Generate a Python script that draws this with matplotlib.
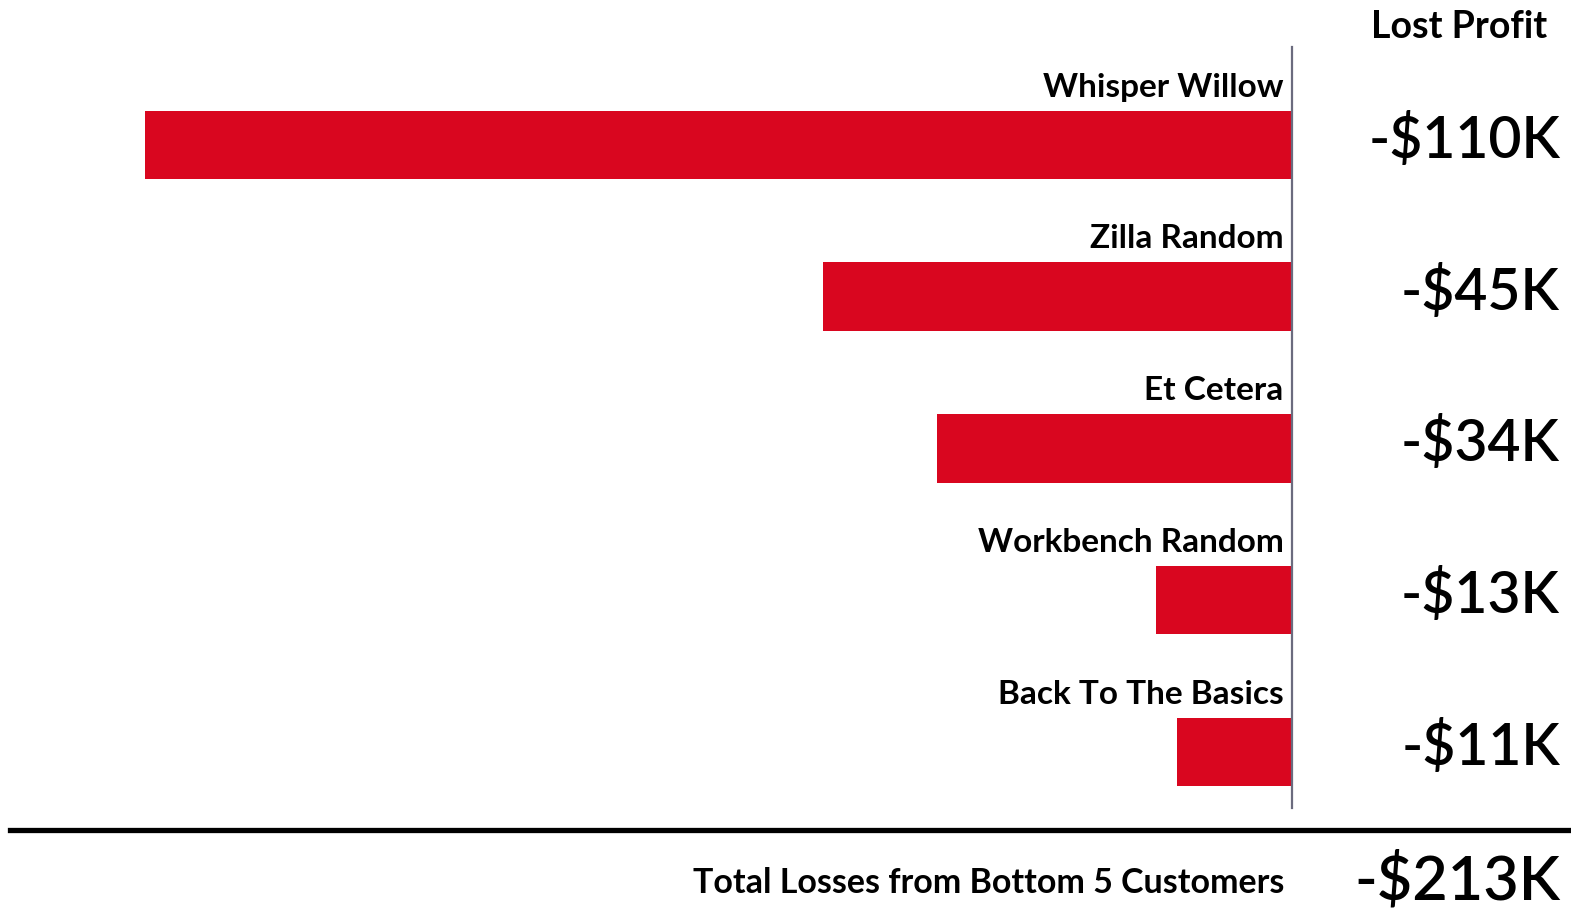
import matplotlib
matplotlib.use("Agg")
import matplotlib.pyplot as plt
import matplotlib.transforms as mtransforms
from matplotlib.lines import Line2D

plt.rcParams['font.family'] = ['Lato', 'DejaVu Sans']

# bottom five customers by profit, in $K
customers = ["Whisper Willow", "Zilla Random", "Et Cetera",
             "Workbench Random", "Back To The Basics"]
lost_profit = [-110, -45, -34, -13, -11]
total_label = "Total Losses from Bottom 5 Customers"

bar_red = "#D9061F"
axis_grey = "#6B6B7E"


def fmt_k(v):
    return "-${:d}K".format(abs(int(round(v))))


W, H = 1571, 908
fig = plt.figure(figsize=(W / 100, H / 100), dpi=100)
ax = fig.add_axes([0, 1 - 808 / H, 1292 / W, (808 - 47) / H])

ypos = list(range(len(customers)))
ax.barh(ypos, lost_profit, height=0.45, color=bar_red)

ax.set_xlim(min(lost_profit) * 1292 / 1147, 0)
ax.set_ylim(4.37, -0.645)

for s in ["left", "top", "bottom"]:
    ax.spines[s].set_visible(False)
ax.spines["right"].set_color(axis_grey)
ax.spines["right"].set_linewidth(1.6)
ax.set_xticks([])
ax.set_yticks([])
ax.patch.set_alpha(0)

# customer names sit above each bar, right-aligned to the axis line
for y, name in zip(ypos, customers):
    ax.annotate(name, xy=(0, y - 0.38), xytext=(-6, 0),
                textcoords="offset points", ha="right", va="center",
                fontsize=24, fontweight="bold", color="black")

# value labels in the right-hand column
trans = mtransforms.blended_transform_factory(fig.transFigure, ax.transData)
for y, v in zip(ypos, lost_profit):
    ax.text(1560 / W, y - 0.03, fmt_k(v), transform=trans, ha="right",
            va="center", fontsize=41, fontweight="semibold", color="black",
            clip_on=False)

fig.text(1547 / W, 1 - 27 / H, "Lost Profit", ha="right", va="center",
         fontsize=27, fontweight="bold", color="black")

# separator and total row
fig.add_artist(Line2D([10 / W, 1.0], [1 - 830 / H, 1 - 830 / H],
                      transform=fig.transFigure, color="black", linewidth=3.8))
fig.text(1284 / W, 1 - 883 / H, total_label, ha="right", va="center",
         fontsize=24.5, fontweight="bold", color="black")
fig.text(1560 / W, 1 - 880 / H, fmt_k(sum(lost_profit)), ha="right",
         va="center", fontsize=44, fontweight="semibold", color="black")

fig.savefig("out.png", dpi=100)
